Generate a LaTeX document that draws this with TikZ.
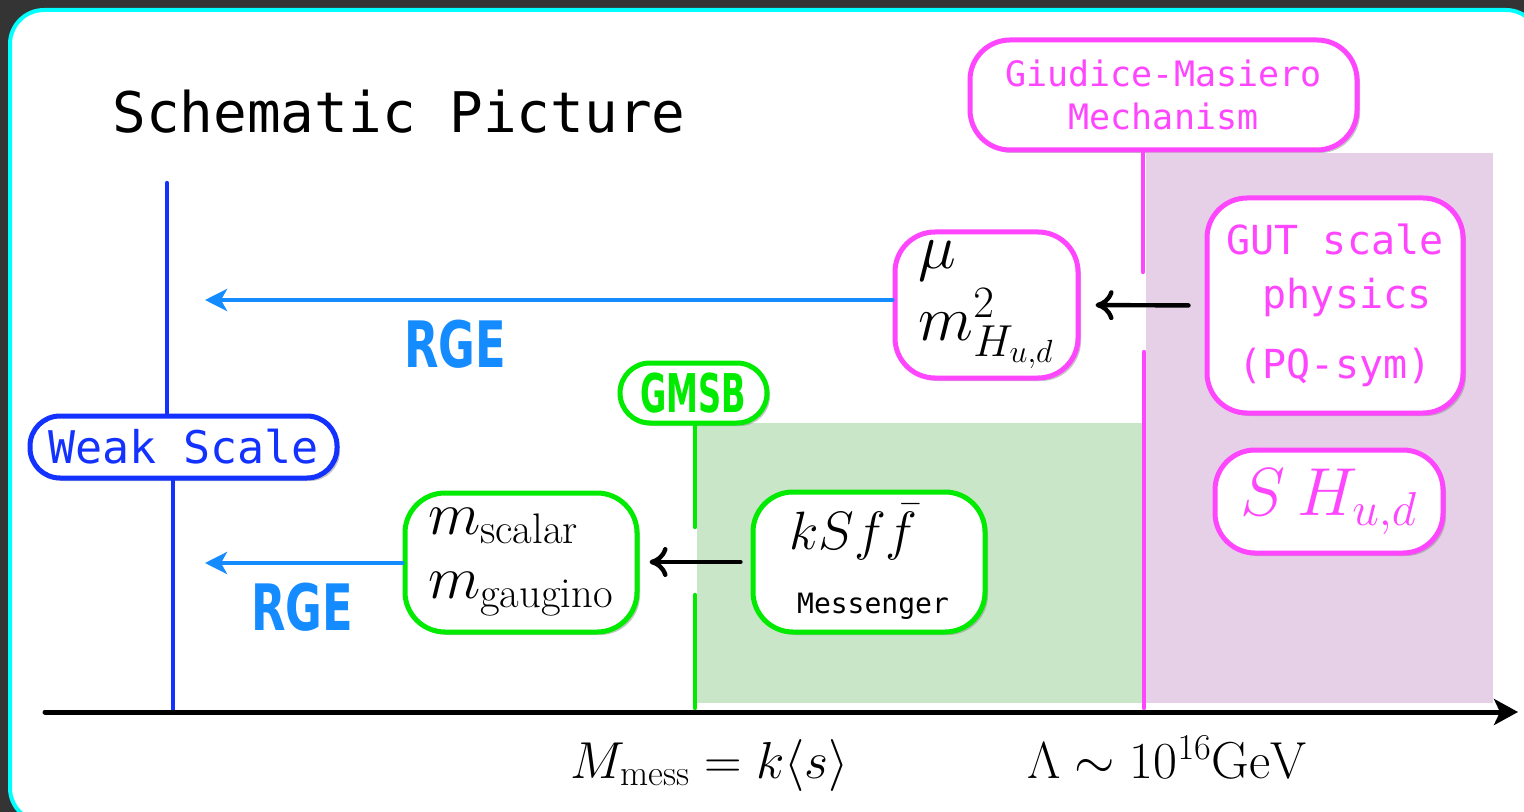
\RequirePackage{fix-cm}
\documentclass[tikz,border=0pt]{standalone}
\usepackage{fontspec}
\usepackage{amsmath}
\usetikzlibrary{arrows.meta}
\usetikzlibrary{shadows}
\newfontfamily\monofont{DejaVu Sans Mono}
\newfontfamily\rgefont[FakeStretch=0.7]{DejaVu Sans}
\newfontfamily\gmsbfont[FakeStretch=0.6]{DejaVu Sans}
\definecolor{panelgray}{RGB}{52,52,52}
\definecolor{framecyan}{RGB}{0,255,255}
\definecolor{weakblue}{RGB}{20,50,255}
\definecolor{rgeblue}{RGB}{20,140,255}
\definecolor{gmsbgreen}{RGB}{0,235,0}
\definecolor{gmmag}{RGB}{255,70,255}
\definecolor{gutfill}{RGB}{230,208,232}
\definecolor{messfill}{RGB}{201,230,201}
\tikzset{
  scalebox/.style={draw, fill=white, line width=2.5pt, rounded corners=20pt, inner sep=0pt,
    drop shadow={opacity=0.45, shadow xshift=1.5pt, shadow yshift=-1.5pt}},
  pillbox/.style={scalebox, rounded corners=15pt},
  rgearrow/.style={rgeblue, line width=2.2pt, -{Stealth[length=11pt, width=11pt, inset=3pt]}},
  feedarrow/.style={black, line width=2.2pt, -{Computer Modern Rightarrow[length=9pt, width=15pt]}},
  scaleline/.style={line width=2.2pt},
}
\begin{document}
\begin{tikzpicture}[x=0.5pt, y=-0.5pt, line cap=round, line join=round]
% panel
\fill[panelgray] (0,0) rectangle (1524,812);
\useasboundingbox (0,0) rectangle (1524,812);
\draw[framecyan, line width=2pt, fill=white, rounded corners=17pt] (10,10) rectangle (1540,822);
% scale regions
\fill[gutfill] (1146,153) rectangle (1493,703);
\fill[messfill] (697,423) rectangle (1145,703);
\node[anchor=base west, inner sep=0pt, font=\monofont\fontsize{28}{34}\selectfont] (title) at (112,133) {Schematic Picture};
% boxes
\node[scalebox, draw=gmmag, text=gmmag, minimum width=193.5pt, minimum height=55pt, align=center,
  font=\monofont\fontsize{17.5}{21.5}\selectfont] (gm) at (1163.5,95) {Giudice-Masiero\\Mechanism};
\node[scalebox, draw=gmmag, text=gmmag, minimum width=128pt, minimum height=107.5pt, align=center,
  font=\monofont\fontsize{20}{27}\selectfont] (gut) at (1335,305.5) {GUT scale\\\phantom{x}physics\\[8pt](PQ-sym)};
\node[scalebox, draw=gmmag, minimum width=91.5pt, minimum height=73pt, align=left,
  font=\fontsize{32}{34}\selectfont] (mu) at (986.5,305) {$\mu$\\[2pt]$m^2_{H_{u,d}}$};
\node[scalebox, draw=gmmag, text=gmmag, minimum width=114pt, minimum height=51.5pt,
  font=\fontsize{34}{40}\selectfont] (shud) at (1329,501.5) {$S\,H_{u,d}$};
\node[pillbox, draw=weakblue, text=weakblue, minimum width=153.5pt, minimum height=31pt,
  font=\monofont\fontsize{22.5}{27}\selectfont] (weak) at (183.5,447) {Weak Scale};
\node[pillbox, draw=gmsbgreen, text=gmsbgreen, minimum width=73.5pt, minimum height=30pt,
  font=\gmsbfont\bfseries\fontsize{26.7}{30}\selectfont] (gmsb) at (693.5,393) {GMSB};
\node[scalebox, draw=gmsbgreen, minimum width=116pt, minimum height=69.5pt, align=left,
  font=\fontsize{30.5}{32}\selectfont] (soft) at (521,562.5) {$m_{\mathrm{scalar}}$\\$m_{\mathrm{gaugino}}$};
\node[scalebox, draw=gmsbgreen, minimum width=116pt, minimum height=70pt, align=left,
  font=\fontsize{27}{31}\selectfont] (mess) at (869,562) {$kSf\bar f$\\[1pt]\hspace*{4pt}{\monofont\fontsize{14}{16}\selectfont Messenger}};
% scale lines
\coordinate (wtop) at (167,183);
\coordinate (wbot) at (173,710);
\draw[scaleline, weakblue] (wtop) -- (wtop |- weak.north);
\draw[scaleline, weakblue] (wbot |- weak.south) -- (wbot);
\coordinate (gl1) at (1143,272);
\coordinate (gl2) at (1144,352);
\coordinate (gl3) at (1144,708);
\draw[scaleline, gmmag] (gl1 |- gm.south) -- (gl1);
\draw[scaleline, gmmag] (gl2) -- (gl3);
\coordinate (gr1) at (695,527);
\coordinate (gr2) at (695,595);
\coordinate (gr3) at (695,708);
\draw[scaleline, gmsbgreen] (gr1 |- gmsb.south) -- (gr1);
\draw[scaleline, gmsbgreen] (gr2) -- (gr3);
% axis
\coordinate (ax0) at (45,712);
\coordinate (ax1) at (1518,712);
\draw[line width=2.5pt, -{Stealth[length=12pt, width=13pt, inset=3pt]}] (ax0) -- (ax1);
\node[anchor=base, inner sep=0pt, font=\fontsize{26}{30}\selectfont] (mmess) at (710,778) {$M_{\mathrm{mess}}=k\langle s\rangle$};
\node[anchor=base, inner sep=0pt, font=\fontsize{26}{30}\selectfont] (lam) at (1167,778) {$\Lambda\sim10^{16}\mathrm{GeV}$};
% RG running
\coordinate (rge1) at (205,300);
\coordinate (rge2) at (205,563);
\draw[rgearrow] (mu.west |- rge1) -- (rge1);
\draw[rgearrow] (soft.west |- rge2) -- (rge2);
\node[rgeblue, inner sep=0pt, font=\rgefont\bfseries\fontsize{32}{36}\selectfont] (rgeup) at (455,344) {RGE};
\node[rgeblue, inner sep=0pt, font=\rgefont\bfseries\fontsize{32}{36}\selectfont] (rgelow) at (302,607) {RGE};
\draw[feedarrow, shorten <=8pt, shorten >=7.5pt] (gut.west) -- (mu.east);
\draw[feedarrow, shorten <=5pt, shorten >=5pt] (mess.west) -- (soft.east |- mess.west);
\end{tikzpicture}
\end{document}
